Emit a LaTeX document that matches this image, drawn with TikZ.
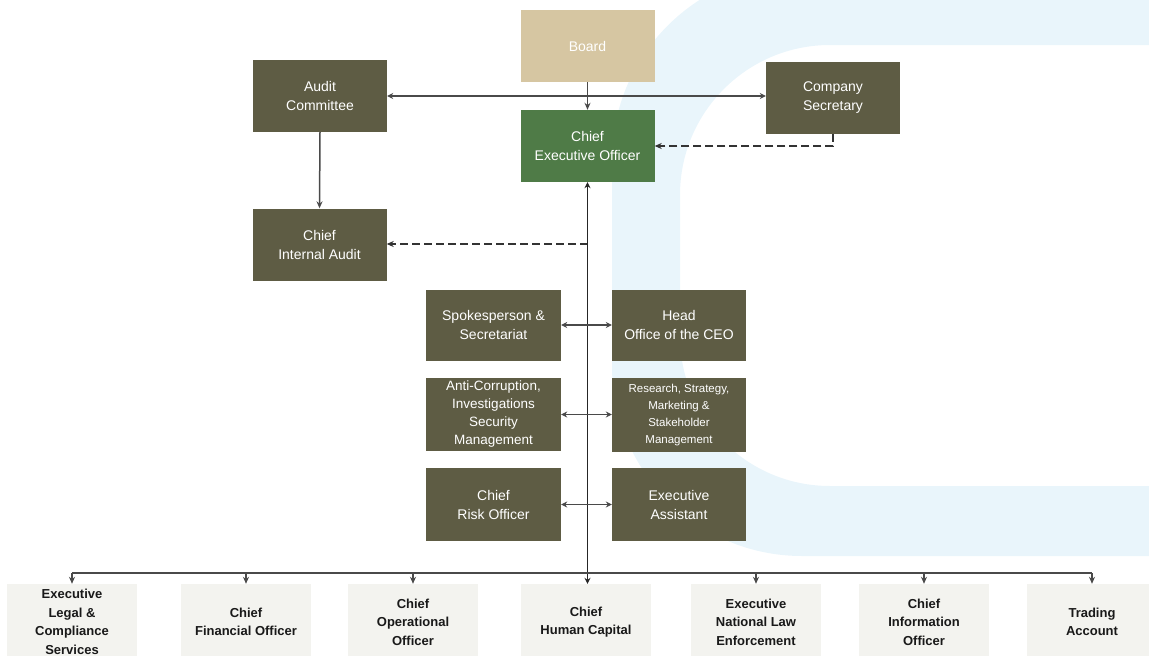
\documentclass[tikz,border=0pt]{standalone}
\usepackage{fontspec}
\setmainfont{Liberation Sans}
\usetikzlibrary{arrows.meta,calc}
\definecolor{olivebox}{HTML}{5E5C44}
\definecolor{ceogreen}{HTML}{4F7B47}
\definecolor{boardtan}{HTML}{D6C6A2}
\definecolor{lowbox}{HTML}{F3F3EF}
\definecolor{ringblue}{HTML}{E9F5FB}
\definecolor{linegray}{HTML}{4A4A4A}
\tikzset{
  topbox/.style={rectangle, fill=olivebox, text=white, minimum width=134pt, minimum height=72pt, align=center, inner sep=1pt, font=\fontsize{14}{19}\selectfont},
  ceobox/.style={topbox, fill=ceogreen},
  boardbox/.style={topbox, fill=boardtan},
  lowerbox/.style={rectangle, fill=lowbox, text=black!90, minimum width=130pt, minimum height=76pt, align=center, inner sep=1pt, font=\bfseries\fontsize{13}{18.5}\selectfont},
  conn/.style={draw=linegray, line width=1.5pt},
  tip/.style={-{Stealth[length=7pt,width=6pt]}},
  twotip/.style={{Stealth[length=6pt,width=6pt]}-{Stealth[length=6pt,width=6pt]}},
  dashconn/.style={draw=black!80, line width=1.6pt, dash pattern=on 8pt off 4pt}
}
\begin{document}
\begin{tikzpicture}[x=1pt,y=-1pt]
\useasboundingbox (0,0) rectangle (1149,656);
% background ring
\fill[ringblue, even odd rule] [rounded corners=190pt] (612,-30) rectangle (1400,556) [rounded corners=150pt] (680,45) rectangle (1400,486);

% top level
\node[boardbox] (board) at (587.5,46) {Board};
\node[topbox] (ac) at (320,96) {Audit\\Committee};
\node[topbox] (cs) at (833,97.5) {Company\\Secretary};
\node[ceobox] (ceo) at (587.5,146) {Chief\\Executive Officer};
\node[topbox] (cia) at (319.5,244.5) {Chief\\Internal Audit};

% side boxes
\node[topbox, minimum width=135pt, minimum height=71pt] (sps) at (493.5,325) {Spokesperson \&\\Secretariat};
\node[topbox, minimum width=134pt, minimum height=71pt] (hoc) at (679,325) {Head\\Office of the CEO};
\node[topbox, minimum width=135pt, minimum height=73pt, font=\fontsize{13.5}{18}\selectfont] (acr) at (493.5,414.5) {Anti-Corruption,\\Investigations\\Security\\Management};
\node[topbox, minimum width=134pt, minimum height=74pt, font=\fontsize{11.5}{17}\selectfont] (rsm) at (679,415) {Research, Strategy,\\Marketing \&\\Stakeholder\\Management};
\node[topbox, minimum width=135pt, minimum height=73pt] (cro) at (493.5,504.5) {Chief\\Risk Officer};
\node[topbox, minimum width=134pt, minimum height=73pt] (ea) at (679,504.5) {Executive\\Assistant};

% bottom boxes
\node[lowerbox] (b1) at (72,622) {Executive\\Legal \&\\Compliance\\Services};
\node[lowerbox] (b2) at (246,622) {Chief\\Financial Officer};
\node[lowerbox] (b3) at (413,622) {Chief\\Operational\\Officer};
\node[lowerbox] (b4) at (586,622) {Chief\\Human Capital};
\node[lowerbox] (b5) at (756,622) {Executive\\National Law\\Enforcement};
\node[lowerbox] (b6) at (924,622) {Chief\\Information\\Officer};
\node[lowerbox] (b7) at (1092,622) {Trading\\Account};

\coordinate (busy) at (0,573);
\coordinate (iay) at (0,244);

% connectors
\draw[conn, tip] (board.south) -- (ceo.north);
\draw[conn, twotip] (ac.east) -- (ac.east -| cs.west);
\draw[conn, tip] (ac.south) -- (cia.north);
\draw[dashconn, tip] (cs.south) |- (ceo.east);
\draw[dashconn, tip] (ceo.south |- iay) -- (cia.east |- iay);
\draw[conn, draw=black!85, line width=1.8pt, twotip] (ceo.south) -- (ceo.south |- b4.north);
\draw[conn, twotip] (sps.east) -- (hoc.west);
\draw[conn, twotip] (acr.east) -- (acr.east -| rsm.west);
\draw[conn, twotip] (cro.east) -- (ea.west);
\draw[conn] (b1.north |- busy) -- (b7.north |- busy);
\foreach \b in {b1,b2,b3,b5,b6,b7} {
  \draw[conn, tip] (\b.north |- busy) -- (\b.north);
}
\end{tikzpicture}
\end{document}
